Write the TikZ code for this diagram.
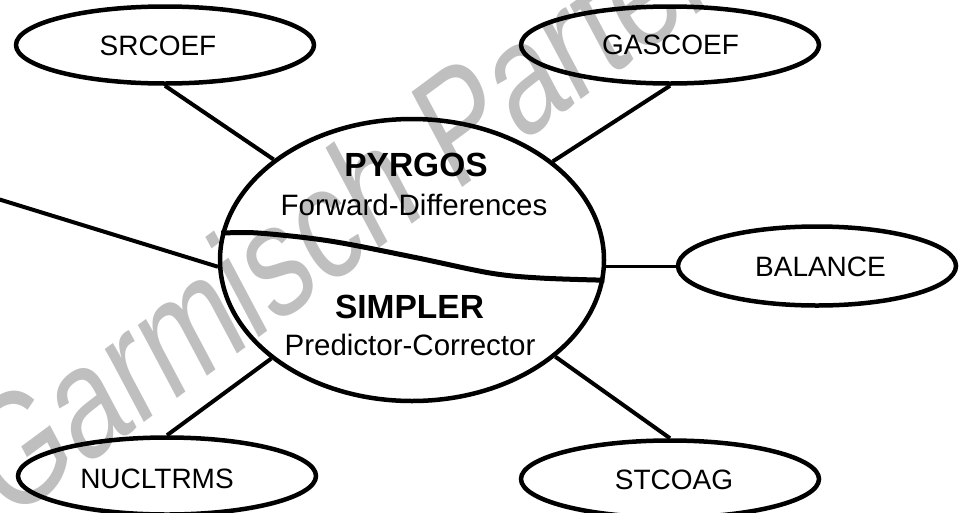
\documentclass[tikz,border=0pt]{standalone}
\usepackage{fontspec}
\setmainfont{Liberation Sans}
\newfontfamily\wmfont[FakeStretch=0.79, FakeSlant=0.15]{Liberation Sans}
\usetikzlibrary{shapes.geometric}
\begin{document}
\begin{tikzpicture}[x=1pt,y=-1pt,
  bubble/.style={draw=black, line width=4.5pt, ellipse, inner sep=0pt, minimum width=298pt, minimum height=77pt},
  lbl/.style={anchor=base, inner sep=0pt, font=\fontsize{28}{30}\selectfont},
  title/.style={anchor=base, inner sep=0pt, font=\fontsize{33.5}{36}\selectfont\bfseries},
  sub/.style={anchor=base, inner sep=0pt, font=\fontsize{29.5}{32}\selectfont},
  link/.style={line width=4pt},
  thinlink/.style={line width=3pt},
  divider/.style={line width=5pt},
  wmark/.style={anchor=base west, inner sep=0pt, rotate=36.5, text=black, text opacity=0.25,
    font=\fontsize{155}{160}\selectfont\wmfont}]
\useasboundingbox (0,0) rectangle (961,512);
\fill[white] (0,0) rectangle (961,512);
% main ellipse
\node[draw=black, line width=4.5pt, ellipse, inner sep=0pt, minimum width=384pt, minimum height=282pt] (core) at (412,260) {};
% satellites
\node[bubble] (src) at (165,45) {};
\node[bubble] (gas) at (670,45) {};
\node[bubble, minimum width=278pt, minimum height=79pt] (bal) at (817,266) {};
\node[bubble] (nuc) at (167,476) {};
\node[bubble] (stc) at (670,479) {};
% labels
\node[lbl] (srct) at (158,55) {SRCOEF};
\node[lbl] (gast) at (670.5,54) {GASCOEF};
\node[lbl] (balt) at (820.5,276) {BALANCE};
\node[lbl] (nuct) at (157,488) {NUCLTRMS};
\node[lbl] (stct) at (674,489) {STCOAG};
\node[title] (pyr) at (416,176.5) {PYRGOS};
\node[sub] (fwd) at (414,215) {Forward-Differences};
\node[title] (smp) at (409.5,318) {SIMPLER};
\node[sub] (pc) at (410,355) {Predictor-Corrector};
% connectors
\draw[link] (src.south) -- (core.144);
\draw[link] (gas.south) -- (core.35);
\draw[link] (nuc.north) -- (core.215);
\draw[link] (stc.north) -- (core.326);
\draw[thinlink] (bal.west) -- (bal.west -| core.east);
\coordinate (lfree) at (-2,199);
\draw[link] (lfree) -- (core.182.5);
% dividing curve
\draw[divider] plot[smooth, tension=0.55] coordinates {(core.172.8) (258,233) (330,241) (413,257) (490,273) (540,278) (core.354.9)};
% watermark
\node[wmark] (wm) at (6,525) {Garmisch Partenkirchen};
\end{tikzpicture}
\end{document}
